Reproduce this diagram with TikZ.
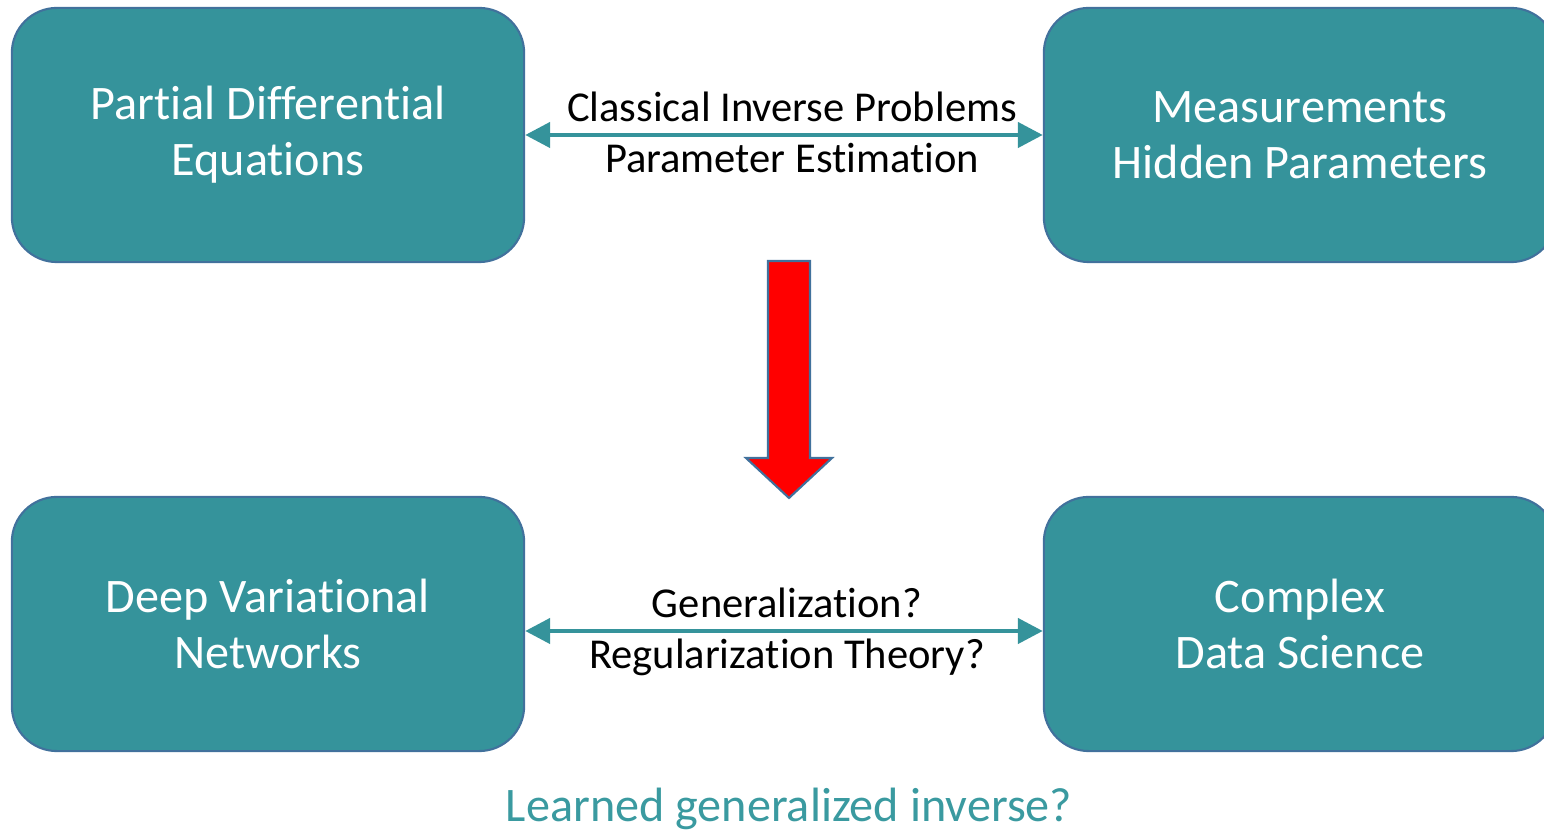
\documentclass[tikz,border=0pt]{standalone}
\usepackage{fontspec}
\setmainfont{Carlito}[Ligatures=NoCommon]
\usetikzlibrary{arrows.meta}
\definecolor{boxfill}{HTML}{35939B}
\definecolor{boxline}{HTML}{41719C}
\definecolor{linkteal}{HTML}{35939B}
\definecolor{questteal}{HTML}{3A9AA0}
\tikzset{
  topic/.style={draw=boxline, fill=boxfill, line width=0.6pt, rounded corners=0.45cm,
                minimum width=5.12cm, minimum height=2.54cm, align=center,
                text=white, font=\fontsize{13.7}{15.9}\selectfont, inner sep=0pt},
  link/.style={{Triangle[length=0.25cm, width=0.25cm]}-{Triangle[length=0.25cm, width=0.25cm]},
               draw=linkteal, line width=1.3pt},
  linklabel/.style={font=\fontsize{12.1}{14}\selectfont, text=black, inner sep=0pt, anchor=base},
}
\begin{document}
\begin{tikzpicture}[x=0.01cm, y=-0.01cm]
    \useasboundingbox (0,0) rectangle (1544,831);
    \clip (0,0) rectangle (1544,831);
    \node[topic] (pde) at (268,135) {Partial Differential\\Equations};
    \node[topic] (meas) at (1300,135) {Measurements\\Hidden Parameters};
    \node[topic] (dvn) at (268,624) {Deep Variational\\Networks};
    \node[topic] (cds) at (1300,624) {Complex\\Data Science};
    \draw[link] (pde.east) -- (meas.west)
      node[midway, linklabel, xshift=0.08cm, yshift=0.13cm] {Classical Inverse Problems}
      node[midway, linklabel, xshift=0.08cm, yshift=-0.37cm] {Parameter Estimation};
    \draw[link] ([yshift=-0.07cm]dvn.east) -- ([yshift=-0.07cm]cds.west)
      node[midway, linklabel, xshift=0.03cm, yshift=0.13cm] {Generalization?}
      node[midway, linklabel, xshift=0.03cm, yshift=-0.37cm] {Regularization Theory?};
    % red arrow between the two rows
    \draw[boxline, fill=red, line width=0.6pt]
      (768,261) -- (810,261) -- (810,458) -- (832,458) -- (789,498)
      -- (746,458) -- (768,458) -- cycle;
    \node[text=questteal, font=\fontsize{13.7}{16}\selectfont, anchor=base, inner sep=0pt] (quest) at (789,822) {Learned generalized inverse?};
\end{tikzpicture}
\end{document}
